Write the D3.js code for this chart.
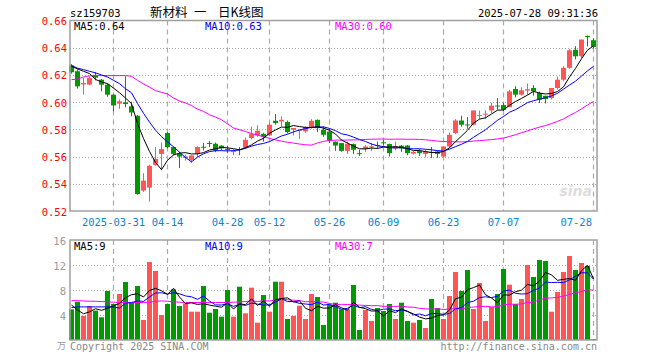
<!DOCTYPE html>
<html><head><meta charset="utf-8">
<script src="https://cdn.jsdelivr.net/npm/d3@7/dist/d3.min.js"></script>
<style>
html,body{margin:0;padding:0;background:#fff;}
svg{display:block;}
text{font-family:"DejaVu Sans Mono",monospace;}
</style></head>
<body>
<svg id="c" width="660" height="360"></svg>
<script>
// ---------- DATA ----------
const dates = ["03-20","03-21","03-24","03-25","03-26","03-27","03-28","03-31","04-01","04-02","04-03","04-07","04-08","04-09","04-10","04-11","04-14","04-15","04-16","04-17","04-18","04-21","04-22","04-23","04-24","04-25","04-28","04-29","04-30","05-06","05-07","05-08","05-09","05-12","05-13","05-14","05-15","05-16","05-19","05-20","05-21","05-22","05-23","05-26","05-27","05-28","05-29","05-30","06-03","06-04","06-05","06-06","06-09","06-10","06-11","06-12","06-13","06-16","06-17","06-18","06-19","06-20","06-23","06-24","06-25","06-26","06-27","06-30","07-01","07-02","07-03","07-04","07-07","07-08","07-09","07-10","07-11","07-14","07-15","07-16","07-17","07-18","07-21","07-22","07-23","07-24","07-25","07-28"];
const open  = [0.627,0.6227,0.613,0.6129,0.620,0.6165,0.6128,0.6055,0.5989,0.5998,0.5969,0.590,0.535,0.5372,0.5539,0.562,0.5773,0.567,0.562,0.559,0.5576,0.562,0.5672,0.570,0.5694,0.568,0.5656,0.5635,0.5655,0.5665,0.5736,0.5755,0.5767,0.5755,0.5863,0.5858,0.5854,0.5797,0.579,0.5785,0.581,0.587,0.5797,0.5784,0.571,0.5699,0.5642,0.5692,0.5625,0.5657,0.5672,0.5685,0.5705,0.5692,0.566,0.568,0.5681,0.5622,0.564,0.562,0.5633,0.5637,0.560,0.5674,0.5773,0.5865,0.5836,0.5834,0.590,0.591,0.5939,0.5975,0.5979,0.5964,0.6097,0.6055,0.6085,0.6104,0.6067,0.6047,0.603,0.6104,0.6165,0.6252,0.6385,0.6337,0.6486,0.6455];
const high  = [0.628,0.624,0.6178,0.619,0.622,0.617,0.614,0.606,0.602,0.619,0.6003,0.5906,0.5478,0.554,0.567,0.5703,0.578,0.5675,0.5636,0.5615,0.561,0.5675,0.570,0.5715,0.5703,0.5685,0.568,0.5655,0.567,0.574,0.582,0.583,0.5775,0.585,0.5913,0.5895,0.5865,0.581,0.5797,0.5822,0.5875,0.5872,0.582,0.5808,0.5712,0.570,0.571,0.5695,0.565,0.5685,0.570,0.571,0.5723,0.5695,0.571,0.5685,0.5685,0.564,0.5655,0.565,0.567,0.5645,0.5675,0.5777,0.5875,0.590,0.589,0.594,0.5939,0.594,0.5995,0.603,0.5995,0.609,0.6116,0.611,0.6136,0.6125,0.6077,0.6047,0.6104,0.6188,0.6265,0.6391,0.6411,0.646,0.649,0.647];
const low   = [0.621,0.610,0.6055,0.6125,0.616,0.608,0.604,0.5932,0.595,0.5963,0.5896,0.532,0.534,0.5269,0.5532,0.550,0.566,0.561,0.5515,0.557,0.5555,0.5595,0.5645,0.567,0.5633,0.5645,0.5625,0.561,0.561,0.5655,0.5725,0.5745,0.571,0.575,0.5835,0.5821,0.577,0.5755,0.573,0.5775,0.5805,0.578,0.5745,0.5699,0.5642,0.5635,0.562,0.562,0.5605,0.5635,0.564,0.566,0.568,0.560,0.5645,0.5635,0.561,0.5615,0.5605,0.5595,0.559,0.559,0.5594,0.5665,0.5765,0.582,0.5805,0.583,0.5875,0.5875,0.592,0.5945,0.5935,0.5964,0.6036,0.6048,0.6055,0.6048,0.5994,0.599,0.602,0.6092,0.6155,0.6245,0.6315,0.6325,0.641,0.6395];
const close = [0.622,0.6116,0.614,0.6178,0.618,0.6128,0.6055,0.5976,0.6006,0.5986,0.5924,0.5325,0.5423,0.5532,0.5583,0.5655,0.5669,0.562,0.560,0.560,0.5608,0.567,0.5668,0.5695,0.5644,0.566,0.5652,0.564,0.565,0.5723,0.5765,0.579,0.5744,0.5834,0.5846,0.587,0.578,0.581,0.5796,0.5817,0.5863,0.5809,0.576,0.5716,0.5681,0.5642,0.5694,0.565,0.562,0.5674,0.5675,0.568,0.570,0.5625,0.5678,0.566,0.5625,0.5635,0.5625,0.5637,0.563,0.562,0.5674,0.576,0.5865,0.5834,0.5832,0.5939,0.5905,0.5915,0.5974,0.5972,0.5944,0.6079,0.6055,0.6087,0.6095,0.6079,0.6018,0.6023,0.6104,0.6165,0.6252,0.6381,0.6337,0.646,0.6482,0.6406];
// volume, 万
const volume = [4.9,6.13,3.84,5.44,4.7,3.63,7.84,5.76,7.36,9.28,5.97,8.64,3.2,12.48,11.04,4.0,5.76,8.1,5.44,5.87,4.53,4.53,8.64,4.37,4.96,3.73,8.0,3.73,8.53,4.27,8.37,2.77,7.2,4.53,9.33,9.33,3.36,3.84,5.49,3.36,7.36,6.88,2.4,5.6,5.97,4.91,4.91,8.8,1.6,4.8,3.04,5.12,4.64,5.76,3.36,5.97,3.04,2.77,3.2,1.92,6.56,5.12,3.36,7.04,10.88,7.84,11.2,4.96,9.12,3.04,5.28,7.36,11.36,8.85,5.76,6.56,12.0,10.08,12.8,12.64,4.53,7.68,10.88,13.44,11.2,12.32,11.84,0.16];
// moving-average values before a full window exists
const ma5Head  = [0.6263,0.6244,0.6227,0.621];
const ma10Head = [0.6269,0.625,0.6239,0.6227,0.6215,0.620,0.6185,0.616,0.6136];
const ma30Head = [0.6165,0.617,0.6185,0.6193,0.6195,0.6195,0.6195,0.6195,0.6195,0.6195,0.619,0.616,0.6134,0.611,0.6085,0.6072,0.606,0.603,0.6008,0.5994,0.5975,0.5949,0.5932,0.5907,0.589,0.5871,0.5841,0.581,0.5797];
const vma5Head  = [5.6,4.8,4.2,4.5];
const vma10Head = [5.2,5.3,5.3,5.3,5.3,5.3,5.3,5.3,5.1];
const vma30Head = [6.3,6.3,6.25,6.2,6.2,6.15,6.1,6.05,6.0,6.0,6.0,6.0,6.0,6.05,6.2,6.25,6.2,6.1,6.05,6.0,6.0,6.0,6.0,6.0,6.0,6.0,6.0,6.05,6.1];
const priceTicks = [0.52,0.54,0.56,0.58,0.60,0.62,0.64,0.66];
const volTicks = [4,8,12,16];
const xTickDates = ["03-31","04-14","04-28","05-12","05-26","06-09","06-23","07-07","07-28"];
const xTickLabels = ["2025-03-31","04-14","04-28","05-12","05-26","06-09","06-23","07-07","07-28"];
const code = "sz159703";
const title = ["新材料","一","日K线图"];
const stamp = "2025-07-28 09:31:36";

// ---------- HELPERS ----------
function ma(arr, n, head){
  return arr.map((v,i)=> i < n-1 ? head[i] : d3.mean(arr.slice(i-n+1,i+1)));
}
const ma5 = ma(close,5,ma5Head), ma10 = ma(close,10,ma10Head), ma30 = ma(close,30,ma30Head);
const vma5 = ma(volume,5,vma5Head), vma10 = ma(volume,10,vma10Head), vma30 = ma(volume,30,vma30Head);

const RED="#ff5555", GREEN="#009900", GRID="#aaaaaa", FRAME="#a0a0a0";
const L=70, R=597, PT=20.5, PB=211, VT=240, VB=340;

const svg = d3.select("#c");
const x = d3.scalePoint().domain(dates).range([71,593]);
const y = d3.scaleLinear().domain([0.52,0.66]).range([PB,PT]);
const yv = d3.scaleLinear().domain([0,16]).range([VB,VT]);
const cx = d => Math.round(x(d));

// ---------- header ----------
svg.append("text").attr("x",70).attr("y",17).attr("font-size",10.5).attr("fill","#000").text(code);
const tx=[150,194,218];
title.forEach((t,i)=>svg.append("text").attr("x",tx[i]).attr("y",16.5).attr("font-size",12.5)
  .style("font-family","'Noto Sans CJK SC',sans-serif").attr("fill","#000").text(t));
svg.append("text").attr("x",598).attr("y",17).attr("text-anchor","end").attr("font-size",10.5).attr("fill","#000").text(stamp);

// ---------- grids ----------
function panel(top,bottom,ticks,ys){
  const g = svg.append("g");
  g.selectAll(".h").data(ticks.filter(t=>ys(t)>top+1 && ys(t)<bottom-1)).enter().append("line")
    .attr("x1",L).attr("x2",R).attr("y1",t=>Math.round(ys(t))+0.5).attr("y2",t=>Math.round(ys(t))+0.5)
    .attr("stroke",GRID).attr("stroke-dasharray","1,2");
  g.selectAll(".v").data(xTickDates).enter().append("line")
    .attr("x1",d=>cx(d)+0.5).attr("x2",d=>cx(d)+0.5).attr("y1",top).attr("y2",bottom)
    .attr("stroke",GRID).attr("stroke-width",1.2).attr("stroke-dasharray","5,4");
  return g;
}
panel(PT,PB,priceTicks,y);
panel(VT,VB,volTicks,yv);

// ---------- candles ----------
const idx = d3.range(dates.length);
const cg = svg.append("g");
cg.selectAll("line.w").data(idx).enter().append("line")
  .attr("x1",i=>cx(dates[i])+0.5).attr("x2",i=>cx(dates[i])+0.5)
  .attr("y1",i=>y(high[i])).attr("y2",i=>y(low[i]))
  .attr("stroke",i=>close[i]>=open[i]?RED:GREEN);
cg.selectAll("rect").data(idx).enter().append("rect")
  .attr("x",i=>cx(dates[i])-2).attr("width",5)
  .attr("y",i=>y(Math.max(open[i],close[i])))
  .attr("height",i=>Math.max(1,Math.abs(y(open[i])-y(close[i]))))
  .attr("fill",i=>close[i]>=open[i]?RED:GREEN);

// ---------- volume ----------
svg.append("g").selectAll("rect").data(idx).enter().append("rect")
  .attr("x",i=>cx(dates[i])-2).attr("width",5)
  .attr("y",i=>yv(volume[i])).attr("height",i=>VB-yv(volume[i]))
  .attr("fill",i=>close[i]>=open[i]?RED:GREEN);

// ---------- MA lines ----------
function drawLine(vals, ys, color){
  svg.append("path").datum(vals)
    .attr("d",d3.line().x((v,i)=>cx(dates[i])+0.5).y(v=>ys(v)))
    .attr("fill","none").attr("stroke",color).attr("stroke-width",1);
}
drawLine(ma30,y,"#ff00ff"); drawLine(ma10,y,"#0000ff"); drawLine(ma5,y,"#000000");
drawLine(vma30,yv,"#ff00ff"); drawLine(vma10,yv,"#0000ff"); drawLine(vma5,yv,"#000000");

// ---------- frames ----------
[[PT,PB],[VT,VB]].forEach(([t,b])=>{
  svg.append("rect").attr("x",L).attr("y",t).attr("width",R-L).attr("height",b-t)
    .attr("fill","none").attr("stroke",FRAME).attr("stroke-width",1.5);
});

// ---------- axes labels ----------
svg.append("g").selectAll("text").data(priceTicks).enter().append("text")
  .attr("x",67).attr("y",t=>y(t)+4.5).attr("text-anchor","end").attr("font-size",10.5)
  .attr("fill","#ff0000").text(t=>d3.format(".2f")(t));
svg.append("g").selectAll("text").data(volTicks).enter().append("text")
  .attr("x",66).attr("y",t=>yv(t)+4.5).attr("text-anchor","end").attr("font-size",10.5)
  .attr("fill","#999").text(t=>t);
svg.append("text").attr("x",66).attr("y",349).attr("text-anchor","end").attr("font-size",9)
  .style("font-family","'Noto Sans CJK SC',sans-serif").attr("fill","#999").text("万");
svg.append("g").selectAll("text").data(xTickDates).enter().append("text")
  .attr("x",(d,i)=> i===xTickDates.length-1 ? cx(d)-1 : cx(d)+0.5)
  .attr("y",226).attr("text-anchor",(d,i)=> i===xTickDates.length-1 ? "end":"middle")
  .attr("font-size",10.5).attr("fill","#0a84d0").text((d,i)=>xTickLabels[i]);

// ---------- legends ----------
const f2 = d3.format(".2f");
const last = dates.length-1;
const leg = (yy, items)=> items.forEach(([t,c,xx])=>svg.append("text").attr("x",xx).attr("y",yy)
  .attr("font-size",10.5).attr("fill",c).text(t));
leg(30,[["MA5:"+f2(ma5[last]),"#000",74],["MA10:"+f2(ma10[last]),"#0000ff",205],["MA30:"+f2(ma30[last]),"#ff00ff",335]]);
leg(250,[["MA5:"+Math.floor(vma5[last]),"#000",74],["MA10:"+Math.floor(vma10[last]),"#0000ff",205],["MA30:"+Math.floor(vma30[last]),"#ff00ff",335]]);

// ---------- watermark & footer ----------
svg.append("text").attr("x",592).attr("y",196).attr("text-anchor","end").attr("font-size",14)
  .attr("font-style","italic").attr("font-weight","bold").style("font-family","'DejaVu Sans',sans-serif")
  .attr("fill","#dddddd").text("sina");
svg.append("text").attr("x",70).attr("y",350).attr("font-size",10).attr("fill","#888").text("Copyright 2025 SINA.COM");
svg.append("text").attr("x",597).attr("y",350).attr("text-anchor","end").attr("font-size",10).attr("fill","#888").text("http://finance.sina.com.cn");
</script>
</body></html>
